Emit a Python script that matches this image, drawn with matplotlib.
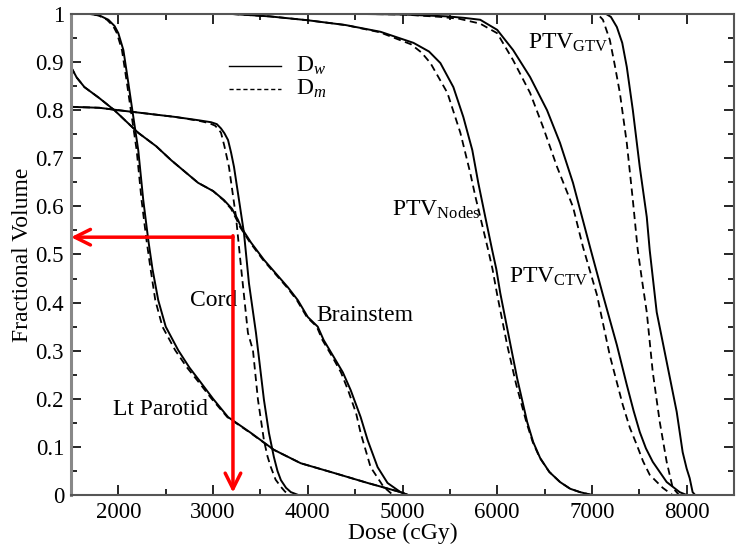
import matplotlib
matplotlib.use("Agg")
import matplotlib.pyplot as plt
from matplotlib.ticker import MultipleLocator, FormatStrFormatter

plt.rcParams['font.family'] = ['Liberation Serif', 'DejaVu Serif']
plt.rcParams['mathtext.fontset'] = 'custom'
plt.rcParams['mathtext.rm'] = 'Liberation Serif'
plt.rcParams['mathtext.it'] = 'Liberation Serif:italic'

# courbes DVH : dose (cGy), volume fractionnel
# Dw = trait plein, Dm = tirets
parotid_dose_w = [1500, 1700, 1800, 1895, 1960, 2000, 2053, 2105, 2158, 2210, 2263, 2316,
                  2360, 2421, 2500, 2632, 2750, 2874, 3000, 3158, 3400, 3642, 3926,
                  4274, 4632, 4979, 5060]
parotid_vol_w = [1.0, 1.0, 0.997, 0.988, 0.975, 0.96, 0.925, 0.857, 0.786, 0.717, 0.613, 0.53,
                 0.47, 0.405, 0.35, 0.301, 0.265, 0.233, 0.2, 0.162, 0.129, 0.094, 0.066,
                 0.046, 0.025, 0.006, 0.0]
parotid_dose_m = [1500, 1690, 1790, 1880, 1945, 1985, 2038, 2090, 2142, 2193, 2245, 2297,
                  2340, 2390, 2465, 2600, 2725, 2855, 2985, 3150, 3395, 3640, 3926,
                  4274, 4632, 4979, 5060]
parotid_vol_m = parotid_vol_w

brain_dose_w = [1500, 1560, 1642, 1800, 1958, 2210, 2400, 2558, 2842, 3000, 3116, 3200,
                3263, 3295, 3400, 3537, 3789, 3895, 4000, 4105, 4168, 4274, 4370, 4453,
                4558, 4632, 4737, 4842, 4979, 5050]
brain_vol_w = [0.89, 0.868, 0.848, 0.825, 0.80, 0.753, 0.725, 0.696, 0.649, 0.632, 0.613, 0.595,
               0.572, 0.557, 0.525, 0.489, 0.432, 0.405, 0.37, 0.35, 0.322, 0.287, 0.255, 0.218,
               0.162, 0.114, 0.058, 0.025, 0.006, 0.0]
brain_dose_m = [1500, 1560, 1642, 1800, 1958, 2210, 2400, 2558, 2842, 3000, 3110, 3190,
                3250, 3285, 3390, 3527, 3779, 3885, 3990, 4095, 4155, 4260, 4350, 4425,
                4510, 4558, 4663, 4800, 4900]
brain_vol_m = [0.89, 0.868, 0.848, 0.825, 0.80, 0.753, 0.725, 0.696, 0.649, 0.632, 0.613, 0.595,
               0.572, 0.557, 0.525, 0.489, 0.432, 0.405, 0.37, 0.35, 0.322, 0.287, 0.255, 0.218,
               0.17, 0.129, 0.058, 0.017, 0.0]

cord_dose_w = [1500, 1800, 2000, 2300, 2600, 2850, 2979, 3040, 3084, 3120, 3158, 3190,
               3221, 3274, 3326, 3379, 3453, 3537, 3590, 3642, 3680, 3716, 3770, 3821, 3900]
cord_vol_w = [0.807, 0.805, 0.80, 0.793, 0.786, 0.779, 0.775, 0.771, 0.762, 0.752, 0.738, 0.712,
              0.682, 0.613, 0.545, 0.44, 0.337, 0.198, 0.129, 0.079, 0.05, 0.031, 0.015, 0.006, 0.0]
cord_dose_m = [1500, 1800, 2000, 2300, 2600, 2850, 2960, 3020, 3060, 3084, 3120, 3168,
               3242, 3295, 3368, 3421, 3474, 3537, 3575, 3610, 3660, 3716, 3760, 3820]
cord_vol_m = [0.807, 0.805, 0.80, 0.793, 0.786, 0.778, 0.773, 0.768, 0.76, 0.753, 0.725, 0.682,
              0.578, 0.474, 0.337, 0.301, 0.198, 0.114, 0.08, 0.058, 0.032, 0.017, 0.007, 0.0]

nodes_dose_w = [3200, 3600, 4000, 4400, 4768, 5116, 5280, 5400, 5537, 5642, 5737, 5800,
                5874, 5947, 5990, 6032, 6105, 6210, 6316, 6380, 6453, 6550, 6663, 6770,
                6874, 7000]
nodes_vol_w = [1.0, 0.995, 0.987, 0.977, 0.963, 0.94, 0.922, 0.898, 0.848, 0.786, 0.717, 0.649,
               0.578, 0.509, 0.47, 0.42, 0.347, 0.243, 0.152, 0.11, 0.077, 0.048, 0.027, 0.013,
               0.006, 0.0]
nodes_dose_m = [3200, 3600, 4000, 4400, 4760, 5090, 5200, 5295, 5474, 5611, 5716, 5770,
                5821, 5905, 5950, 6000, 6105, 6200, 6310, 6375, 6450, 6550, 6663, 6770,
                6874, 7000]
nodes_vol_m = [1.0, 0.995, 0.987, 0.977, 0.962, 0.937, 0.92, 0.898, 0.836, 0.753, 0.669, 0.62,
               0.578, 0.509, 0.47, 0.416, 0.312, 0.23, 0.15, 0.11, 0.077, 0.048, 0.027, 0.013,
               0.006, 0.0]

ctv_dose_w = [4600, 5000, 5474, 5650, 5821, 6000, 6168, 6347, 6526, 6663, 6800, 6979,
              7116, 7263, 7368, 7440, 7505, 7570, 7642, 7789, 7926, 8000]
ctv_vol_w = [1.0, 0.999, 0.995, 0.992, 0.988, 0.967, 0.925, 0.869, 0.80, 0.732, 0.649, 0.516,
             0.416, 0.312, 0.229, 0.175, 0.131, 0.097, 0.069, 0.027, 0.006, 0.0]
ctv_dose_m = [4600, 5000, 5400, 5600, 5820, 6000, 6168, 6347, 6484, 6632, 6800, 6905,
              7053, 7189, 7326, 7400, 7474, 7540, 7610, 7747, 7850]
ctv_vol_m = [1.0, 0.999, 0.994, 0.99, 0.98, 0.96, 0.904, 0.836, 0.765, 0.682, 0.599, 0.516,
             0.416, 0.29, 0.187, 0.14, 0.104, 0.07, 0.042, 0.015, 0.0]

gtv_dose_w = [6600, 7150, 7200, 7263, 7320, 7368, 7432, 7505, 7579, 7610, 7684, 7789,
              7895, 7958, 8000, 8032, 8063, 8090]
gtv_vol_w = [1.0, 1.0, 0.994, 0.973, 0.94, 0.89, 0.80, 0.682, 0.578, 0.509, 0.38, 0.277,
             0.173, 0.089, 0.055, 0.035, 0.006, 0.0]
gtv_dose_m = [6600, 7060, 7116, 7189, 7240, 7295, 7368, 7432, 7484, 7530, 7579, 7642,
              7716, 7789, 7853, 7920]
gtv_vol_m = [1.0, 1.0, 0.988, 0.946, 0.895, 0.836, 0.732, 0.613, 0.509, 0.445, 0.38, 0.256,
             0.152, 0.069, 0.015, 0.0]

# etiquettes des structures (position du coin gauche)
labels = [r'PTV$_{\mathrm{GTV}}$', r'PTV$_{\mathrm{Nodes}}$', r'PTV$_{\mathrm{CTV}}$',
          'Cord', 'Brainstem', 'Lt Parotid']
label_x = [6330, 4890, 6120, 2760, 4090, 1940]
label_y = [0.94, 0.593, 0.453, 0.405, 0.374, 0.177]

# fleches rouges
arrow_dose = 3210
arrow_vol = 0.536

fig = plt.figure(figsize=(7.36, 5.53), dpi=100)
ax = fig.add_axes([71 / 736, 1 - 495 / 553, 663 / 736, 481 / 553])

courbes = [(parotid_dose_w, parotid_vol_w, parotid_dose_m, parotid_vol_m),
           (brain_dose_w, brain_vol_w, brain_dose_m, brain_vol_m),
           (cord_dose_w, cord_vol_w, cord_dose_m, cord_vol_m),
           (nodes_dose_w, nodes_vol_w, nodes_dose_m, nodes_vol_m),
           (ctv_dose_w, ctv_vol_w, ctv_dose_m, ctv_vol_m),
           (gtv_dose_w, gtv_vol_w, gtv_dose_m, gtv_vol_m)]
for dw, vw, dm, vm in courbes:
    ax.plot(dw, vw, color='black', lw=1.4, solid_joinstyle='round')
    ax.plot(dm, vm, color='black', lw=1.3, ls=(0, (4, 2.5)))

# legende dessinee a la main comme dans l'original
ax.plot([3170, 3720], [0.892, 0.892], color='black', lw=1.0)
ax.plot([3170, 3720], [0.844, 0.844], color='black', lw=1.0, ls=(0, (3, 2)))
ax.text(3880, 0.892, r'D$_{w}$', fontsize=17, va='center')
ax.text(3880, 0.844, r'D$_{m}$', fontsize=17, va='center')

for t, x, y in zip(labels, label_x, label_y):
    ax.text(x, y, t, fontsize=17, va='center', ha='left')

ax.annotate('', xy=(1500, arrow_vol), xytext=(arrow_dose, arrow_vol),
            arrowprops=dict(arrowstyle='->', color='red', lw=2.5, mutation_scale=28,
                            shrinkA=0, shrinkB=0))
ax.annotate('', xy=(arrow_dose, 0.005), xytext=(arrow_dose, arrow_vol + 0.003),
            arrowprops=dict(arrowstyle='->', color='red', lw=2.5, mutation_scale=28,
                            shrinkA=0, shrinkB=0))

ax.set_xlim(1500, 8500)
ax.set_ylim(0, 1)
ax.xaxis.set_major_locator(MultipleLocator(1000))
ax.xaxis.set_minor_locator(MultipleLocator(500))
ax.yaxis.set_major_locator(MultipleLocator(0.1))
ax.yaxis.set_minor_locator(MultipleLocator(0.05))
ax.yaxis.set_major_formatter(FormatStrFormatter('%g'))
ax.tick_params(which='both', direction='in', top=True, right=True, labelsize=16.5, width=1.2)
ax.tick_params(which='major', length=7, pad=5)
ax.tick_params(which='minor', length=4)
ax.set_xticks([2000, 3000, 4000, 5000, 6000, 7000, 8000])
for s in ax.spines.values():
    s.set_color('#555555')
    s.set_linewidth(1.5)
ax.spines['left'].set_color('#888888')
ax.spines['left'].set_linewidth(2.2)

ax.set_xlabel('Dose (cGy)', fontsize=17, labelpad=0)
ax.set_ylabel('Fractional Volume', fontsize=17, labelpad=2)

fig.savefig('out.png', dpi=100)
